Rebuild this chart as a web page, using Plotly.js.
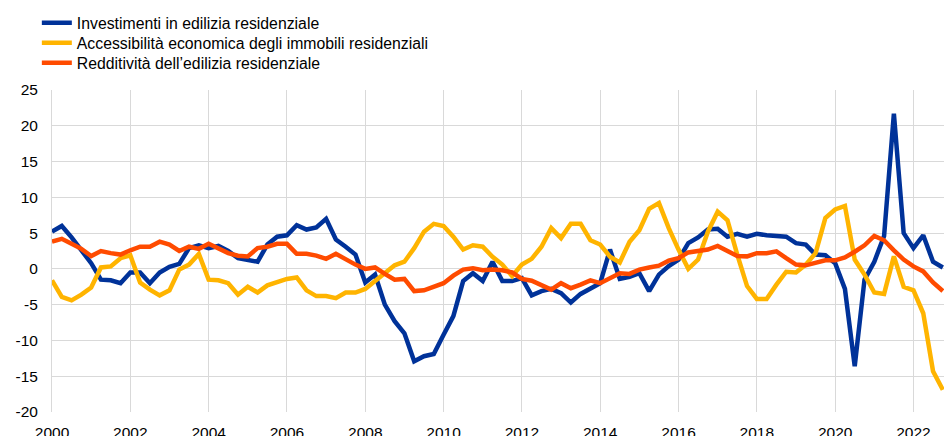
<!DOCTYPE html>
<html>
<head>
<meta charset="utf-8">
<script src="https://cdn.plot.ly/plotly-3.0.1.min.js"></script>
<style>
html,body{margin:0;padding:0;background:#fff;}
#chart{width:944px;height:436px;}
</style>
</head>
<body>
<div id="chart"></div>
<script>
// Quarterly observations, 2000 Q1 .. 2022 Q4
const startYear = 2000;
const seriesNames = [
  "Investimenti in edilizia residenziale",
  "Accessibilità economica degli immobili residenziali",
  "Redditività dell’edilizia residenziale"
];
const investimenti = [
  5.2, 6.0, 4.4, 2.7, 0.8, -1.5, -1.6, -2.0, -0.5, -0.5, -2.0, -0.5,
  0.3, 0.7, 2.9, 3.3, 2.9, 3.2, 2.5, 1.5, 1.3, 1.0, 3.4, 4.5,
  4.7, 6.1, 5.5, 5.8, 7.0, 4.1, 3.1, 2.0, -1.9, -0.8, -5.0, -7.3,
  -9.0, -12.9, -12.2, -11.9, -9.2, -6.6, -1.7, -0.6, -1.7, 1.0, -1.7, -1.7,
  -1.3, -3.7, -3.1, -2.8, -3.4, -4.7, -3.5, -2.7, -2.0, 2.7, -1.4, -1.1,
  -0.6, -3.1, -0.8, 0.4, 1.3, 3.6, 4.4, 5.5, 5.6, 4.5, 4.9, 4.5,
  4.9, 4.7, 4.6, 4.5, 3.6, 3.4, 2.0, 1.9, 0.8, -2.8, -13.6, -1.5,
  1.0, 4.6, 21.7, 5.0, 2.9, 4.7, 1.0, 0.2
];
const accessibilita = [
  -1.6, -3.9, -4.4, -3.6, -2.6, 0.2, 0.35, 1.5, 1.9, -1.9, -2.9, -3.7,
  -3.0, -0.1, 0.6, 2.1, -1.5, -1.6, -2.0, -3.6, -2.5, -3.3, -2.3, -1.9,
  -1.4, -1.2, -3.0, -3.8, -3.8, -4.1, -3.3, -3.3, -2.8, -1.7, -0.6, 0.5,
  1.0, 2.9, 5.2, 6.3, 6.0, 4.5, 2.7, 3.3, 3.1, 1.7, 0.6, -1.0,
  0.6, 1.4, 3.1, 5.7, 4.3, 6.3, 6.3, 4.0, 3.4, 1.7, 0.9, 3.8,
  5.4, 8.4, 9.2, 5.7, 2.7, 0.0, 1.3, 5.2, 8.0, 6.8, 2.0, -2.4,
  -4.2, -4.2, -2.2, -0.4, -0.5, 0.6, 2.2, 7.1, 8.3, 8.8, 1.3, -0.8,
  -3.3, -3.5, 1.75, -2.5, -3.0, -6.2, -14.3, -16.9
];
const redditivita = [
  3.8, 4.2, 3.5, 2.8, 1.8, 2.5, 2.2, 2.0, 2.6, 3.1, 3.1, 3.8,
  3.4, 2.5, 3.1, 2.8, 3.5, 2.9, 2.2, 1.85, 1.75, 2.9, 3.1, 3.5,
  3.5, 2.1, 2.1, 1.85, 1.4, 2.1, 1.3, 0.6, 0.0, 0.2, -0.7, -1.5,
  -1.4, -3.1, -3.0, -2.5, -2.0, -0.95, -0.1, 0.1, -0.2, -0.1, -0.2, -0.5,
  -1.4, -1.65, -2.3, -2.9, -2.0, -2.7, -2.2, -1.6, -2.0, -1.3, -0.6, -0.7,
  -0.1, 0.2, 0.45, 1.15, 1.5, 2.3, 2.45, 2.7, 3.2, 2.45, 1.8, 1.75,
  2.2, 2.2, 2.45, 1.5, 0.6, 0.5, 0.8, 1.2, 1.2, 1.6, 2.4, 3.3,
  4.6, 4.0, 2.6, 1.3, 0.35, -0.35, -1.9, -3.1
];
const xTickVals = [2000, 2002, 2004, 2006, 2008, 2010, 2012, 2014, 2016, 2018, 2020, 2022];
const yTickVals = [25, 20, 15, 10, 5, 0, -5, -10, -15, -20];
const colors = ["#003299", "#FFB400", "#FF4B00"];

const quarters = investimenti.map((_, i) => startYear + i / 4);
const allSeries = [investimenti, accessibilita, redditivita];
const legendIds = ["legend", "legend2", "legend3"];

const traces = allSeries.map((vals, k) => ({
  x: quarters,
  y: vals,
  type: "scatter",
  mode: "lines",
  name: seriesNames[k],
  legend: legendIds[k],
  line: {color: colors[k], width: 4.5, shape: "linear"},
  hoverinfo: "x+y"
}));

const font = {family: "Liberation Sans, Arial, sans-serif", size: 15.5, color: "#000"};

function legendAt(yPaper) {
  return {
    x: -0.017, y: yPaper, xanchor: "left", yanchor: "middle",
    orientation: "v",
    font: {family: font.family, size: 15.8, color: "#000"},
    bgcolor: "rgba(0,0,0,0)",
    borderwidth: 0
  };
}

const layout = {
  width: 944,
  height: 436,
  margin: {l: 52, r: 0, t: 90, b: 24, pad: 0},
  paper_bgcolor: "#fff",
  plot_bgcolor: "#fff",
  font: font,
  showlegend: true,
  legend: legendAt(1.208),
  legend2: legendAt(1.146),
  legend3: legendAt(1.084),
  xaxis: {
    range: [2000, 2022.78],
    tickvals: xTickVals,
    ticktext: xTickVals.map(String),
    showgrid: true,
    gridcolor: "#d9d9d9",
    gridwidth: 1,
    zeroline: false,
    showline: false,
    ticks: "outside",
    ticklen: 6,
    tickcolor: "rgba(0,0,0,0)",
    tickfont: {size: 15.5}
  },
  yaxis: {
    range: [-20, 25],
    tickvals: yTickVals,
    ticktext: yTickVals.map(String),
    showgrid: true,
    gridcolor: "#d9d9d9",
    gridwidth: 1,
    zeroline: false,
    showline: true,
    linecolor: "#d9d9d9",
    linewidth: 1,
    ticks: "outside",
    ticklen: 10,
    tickcolor: "rgba(0,0,0,0)",
    tickfont: {size: 15.5}
  }
};

Plotly.newPlot("chart", traces, layout, {displayModeBar: false, staticPlot: true});
</script>
</body>
</html>
